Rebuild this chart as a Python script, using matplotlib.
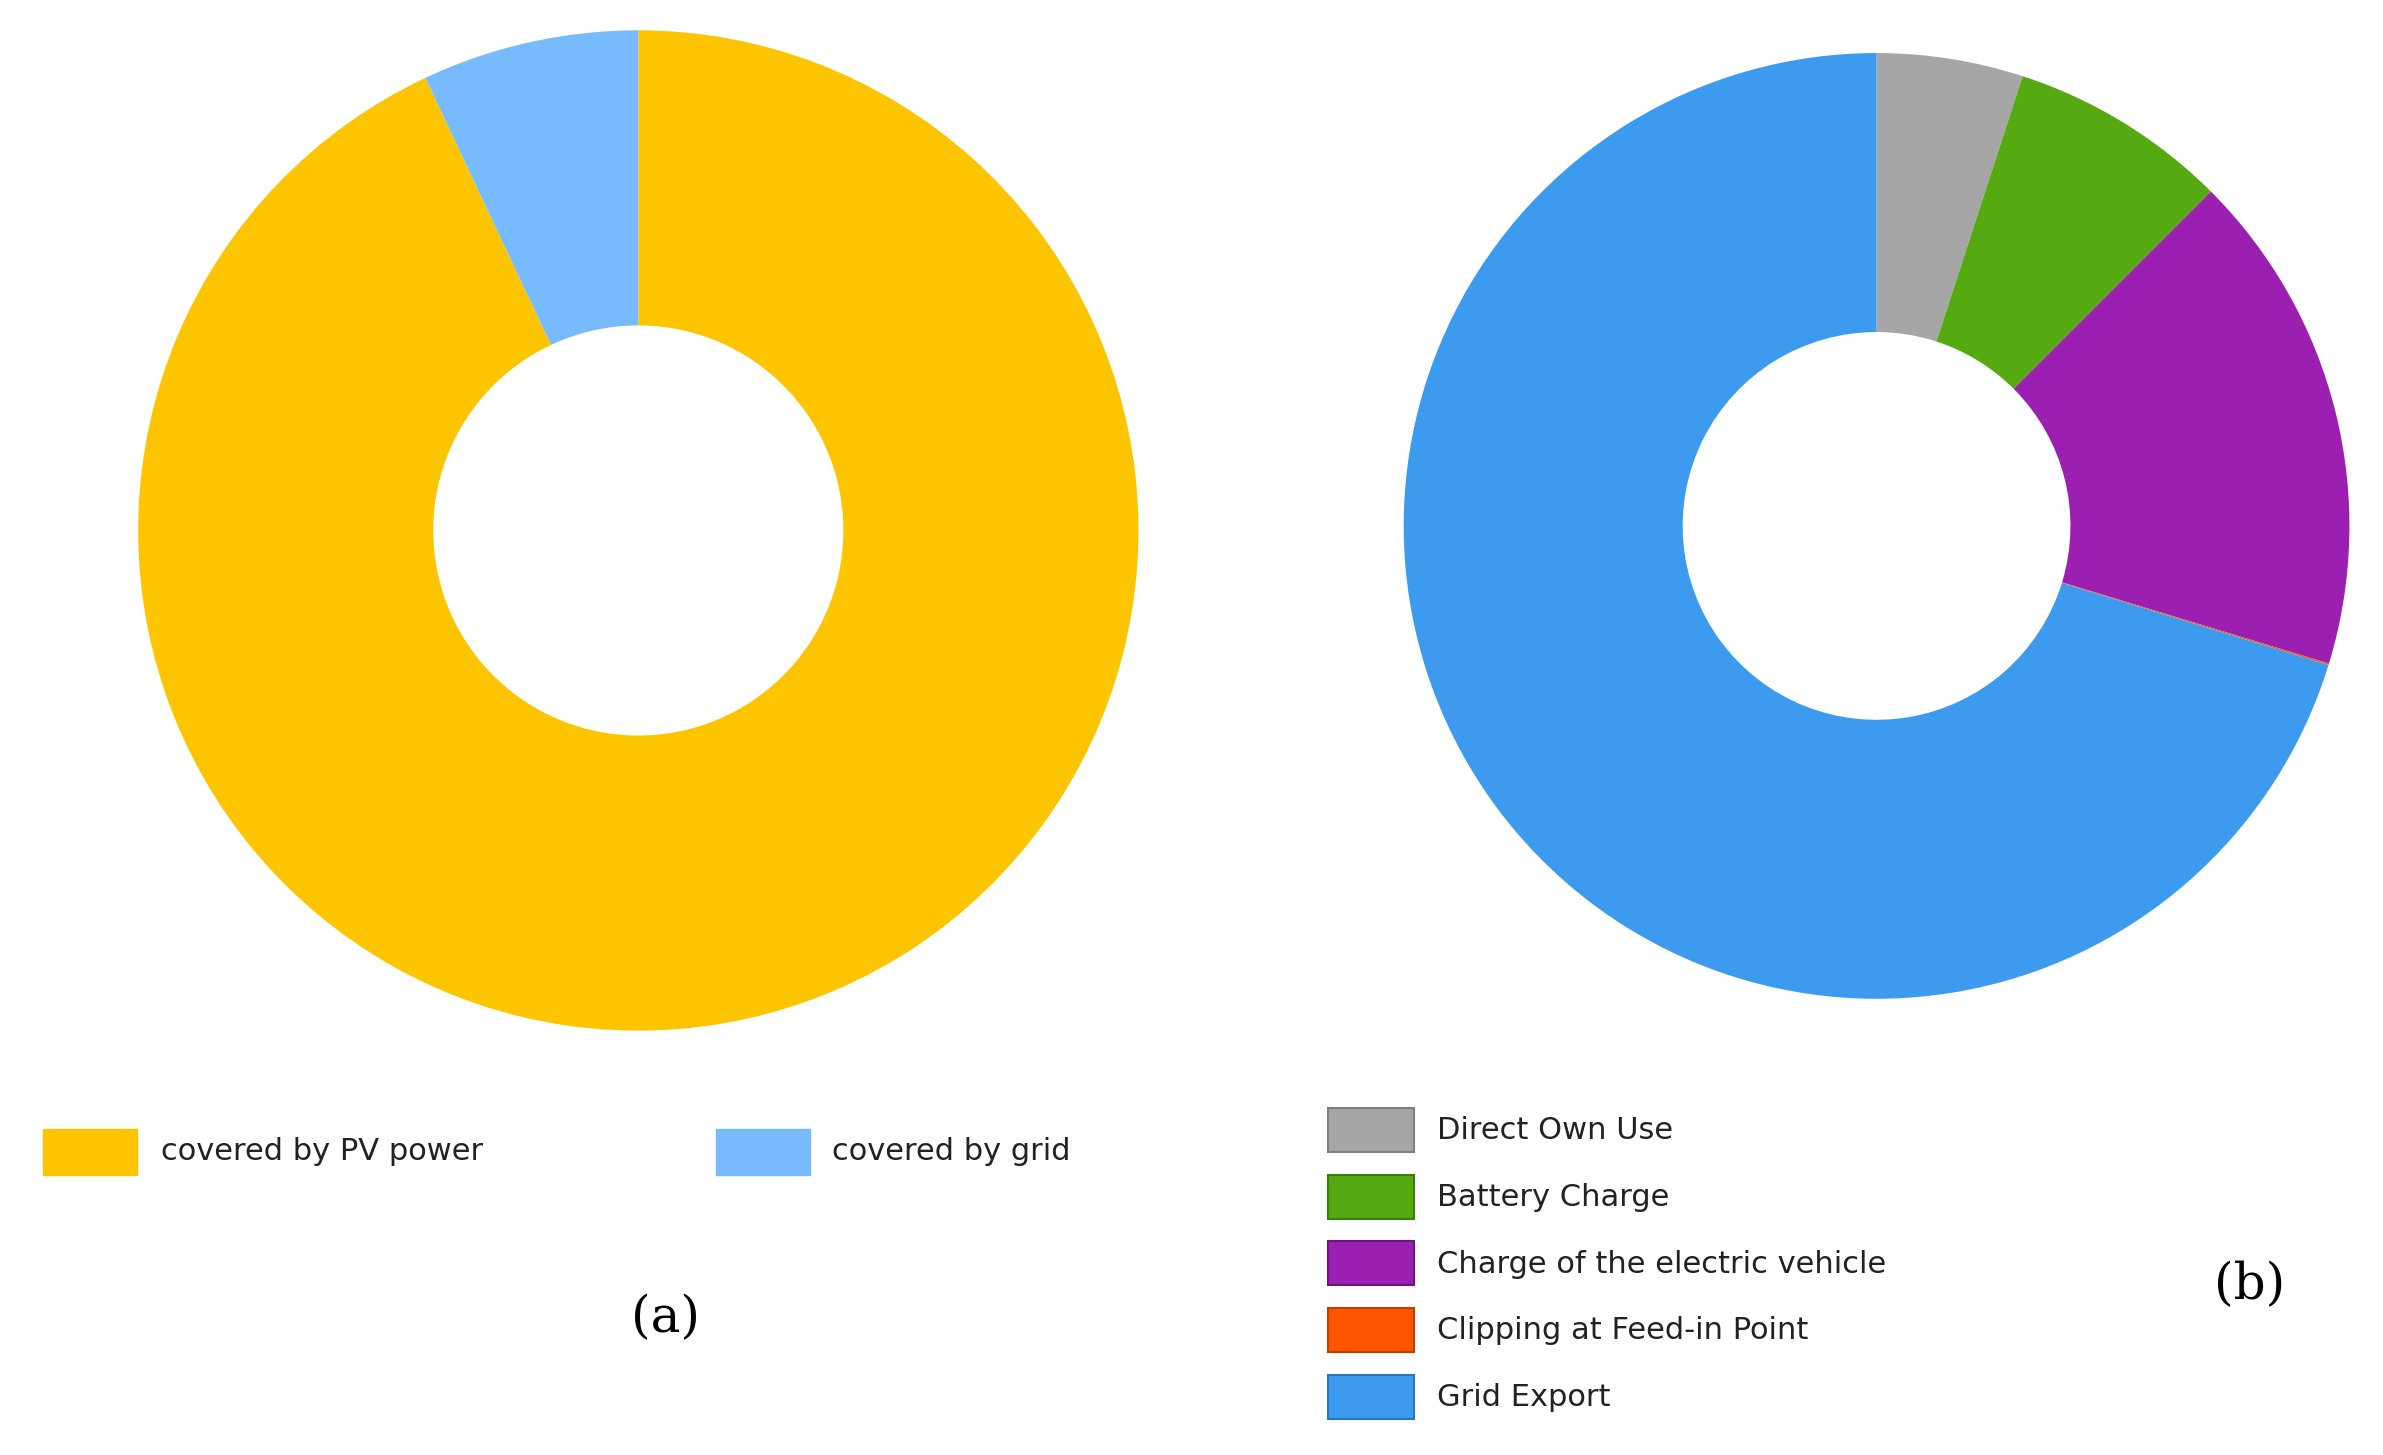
import matplotlib.pyplot as plt
from matplotlib.patches import Rectangle

# --- data ---
left_labels = ["covered by PV power", "covered by grid"]
left_values = [93.0, 7.0]
left_colors = ["#FDC400", "#78BBFD"]

right_labels = ["Direct Own Use", "Battery Charge", "Charge of the electric vehicle",
                "Clipping at Feed-in Point", "Grid Export"]
right_values = [5.0, 7.5, 17.2, 0.05, 70.25]
right_colors = ["#A6A6A6", "#55AA11", "#9B1FB0", "#FF5500", "#3D9BEF"]
right_edges = ["#7f7f7f", "#3a7f0a", "#6e1480", "#c04000", "#2a75c0"]

W, H = 1560, 960
fig = plt.figure(figsize=(23.83, 14.55), dpi=100)
ax = fig.add_axes([0, 0, 1, 1])
ax.set_xlim(0, W)
ax.set_ylim(0, H)
ax.set_aspect("equal")
ax.axis("off")

def Y(y):
    return H - y

# donuts
ax.pie(left_values, colors=left_colors, startangle=90, counterclock=False,
       center=(415, Y(350)), radius=330, frame=True,
       wedgeprops=dict(width=330 * 0.59, edgecolor="none"))
ax.pie(right_values, colors=right_colors, startangle=90, counterclock=False,
       center=(1232, Y(347)), radius=312, frame=True,
       wedgeprops=dict(width=312 * 0.59, edgecolor="none"))
ax.set_xlim(0, W)
ax.set_ylim(0, H)
ax.axis("off")

# legend (a)
fs = 22
for (x0, tx), lab, col in zip([(22, 100), (466, 543)], left_labels, left_colors):
    ax.add_patch(Rectangle((x0, Y(775)), 62, 30, facecolor=col, edgecolor=col))
    ax.text(tx, Y(760), lab, fontsize=fs, va="center", ha="left", color="#222222")

# legend (b)
for i, (lab, col, ec) in enumerate(zip(right_labels, right_colors, right_edges)):
    yc = 746 + 44 * i
    ax.add_patch(Rectangle((870, Y(yc + 14)), 57, 29, facecolor=col, edgecolor=ec, lw=1.5))
    ax.text(942, Y(yc), lab, fontsize=fs, va="center", ha="left", color="#222222")

ax.text(433, Y(870), "(a)", fontsize=36, family="DejaVu Serif", ha="center", va="center")
ax.text(1478, Y(848), "(b)", fontsize=36, family="DejaVu Serif", ha="center", va="center")

fig.savefig("out.png", dpi=100)
